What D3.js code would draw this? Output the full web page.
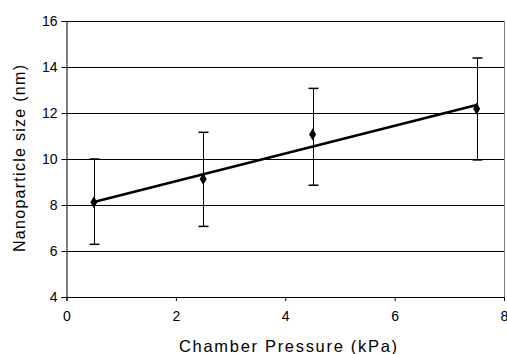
<!DOCTYPE html>
<html><head><meta charset="utf-8">
<script src="https://cdn.jsdelivr.net/npm/d3@7"></script>
<style>body{margin:0;background:#fff}svg{display:block}</style>
</head><body>
<svg id="c" width="507" height="354"></svg>
<script>
const pressure = [0.5, 2.5, 4.5, 7.5];
const sizeNm = [8.12, 9.13, 11.07, 12.19];
const errUpper = [10.0, 11.16, 13.07, 14.39];
const errLower = [6.29, 7.07, 8.86, 9.96];
const trendX = [0.5, 7.5];
const trendY = [8.13, 12.35];
const xTicks = [0, 2, 4, 6, 8];
const yTicks = [4, 6, 8, 10, 12, 14, 16];

const svg = d3.select("#c");
const m = {l: 66.5, r: 504, t: 21, b: 297};
const x = d3.scaleLinear().domain([0, 8]).range([m.l, m.r]);
const y = d3.scaleLinear().domain([4, 16]).range([m.b, m.t]);
const font = "Liberation Sans, Arial, sans-serif";

// gridlines
svg.append("g").selectAll("line").data(yTicks.filter(d => d > 4)).join("line")
  .attr("x1", m.l).attr("x2", m.r).attr("y1", d => Math.round(y(d)) + 0.5).attr("y2", d => Math.round(y(d)) + 0.5)
  .attr("stroke", "#000").attr("stroke-width", 1);
// right border
svg.append("line").attr("x1", m.r + 0.5).attr("x2", m.r + 0.5).attr("y1", m.t).attr("y2", m.b)
  .attr("stroke", "#808080").attr("stroke-width", 1);

// axes
const yAxis = d3.axisLeft(y).tickValues(yTicks).tickSize(5).tickPadding(4).tickFormat(d3.format("d"));
const gy = svg.append("g").attr("transform", `translate(${m.l},0)`).call(yAxis);
const xAxis = d3.axisBottom(x).tickValues(xTicks).tickSize(4).tickPadding(9).tickFormat(d3.format("d"));
const gx = svg.append("g").attr("transform", `translate(0,${m.b})`).call(xAxis);
[gx, gy].forEach(g => {
  g.selectAll("text").attr("font-family", font).attr("font-size", 14).attr("fill", "#000");
  g.selectAll("line, path").attr("stroke", "#000");
});
gx.selectAll("text").attr("dy", "0.71em").attr("y", 14);

// trend line
svg.append("line")
  .attr("x1", x(trendX[0])).attr("y1", y(trendY[0]))
  .attr("x2", x(trendX[1])).attr("y2", y(trendY[1]))
  .attr("stroke", "#000").attr("stroke-width", 2.5);

// error bars
const eb = svg.append("g").attr("stroke", "#000").attr("stroke-width", 1);
pressure.forEach((p, i) => {
  const cx = Math.round(x(p)) + 0.5;
  eb.append("line").attr("x1", cx).attr("x2", cx).attr("y1", y(errUpper[i])).attr("y2", y(errLower[i]));
  [errUpper[i], errLower[i]].forEach(v => {
    eb.append("line").attr("x1", cx - 5).attr("x2", cx + 5).attr("y1", y(v)).attr("y2", y(v)).attr("stroke-width", 1.5);
  });
});

// markers
svg.append("g").selectAll("path").data(pressure).join("path")
  .attr("d", d3.symbol().type(d3.symbolDiamond).size(42))
  .attr("transform", (d, i) => `translate(${x(d)},${y(sizeNm[i])})`)
  .attr("fill", "#000");

// titles
svg.append("text").attr("x", 288).attr("y", 352).attr("text-anchor", "middle")
  .attr("font-family", font).attr("font-size", 16.5)
  .attr("textLength", 218).attr("lengthAdjust", "spacing").text("Chamber Pressure (kPa)");
svg.append("text").attr("transform", `translate(25,158.5) rotate(-90)`).attr("text-anchor", "middle")
  .attr("font-family", font).attr("font-size", 16)
  .attr("textLength", 187).attr("lengthAdjust", "spacing").text("Nanoparticle size (nm)");
</script>
</body></html>
